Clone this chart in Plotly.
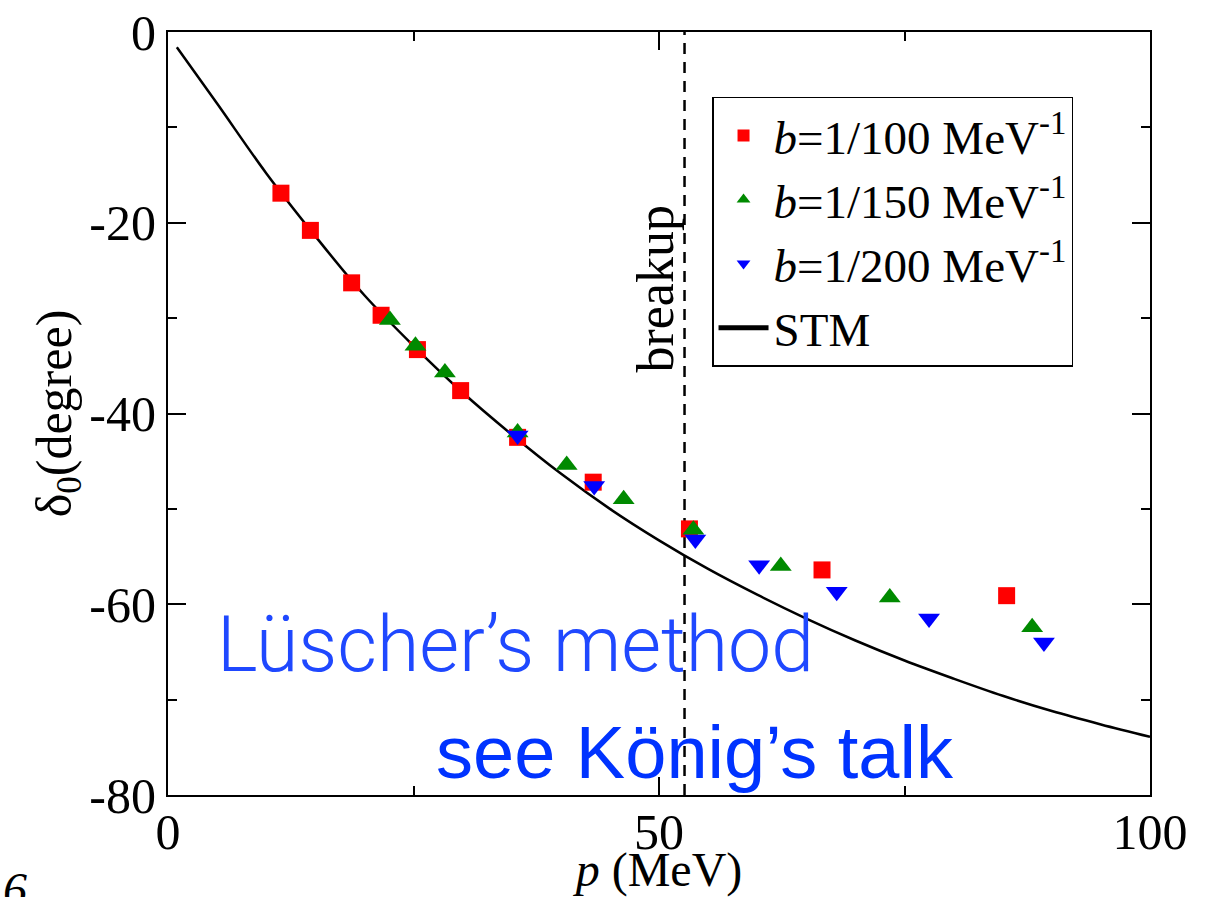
import plotly.graph_objects as go

# ---- data ----
p_b100 = [11.5, 14.5, 18.7, 21.7, 25.4, 29.8, 35.6, 43.3, 53.1, 66.6, 85.4]
d_b100 = [-16.9, -20.8, -26.3, -29.7, -33.3, -37.6, -42.5, -47.2, -52.1, -56.4, -59.1]

p_b150 = [22.6, 25.2, 28.2, 35.6, 40.6, 46.4, 53.5, 62.4, 73.5, 88.0]
d_b150 = [-30.2, -32.9, -35.7, -42.0, -45.4, -49.0, -52.2, -56.0, -59.3, -62.4]

p_b200 = [35.6, 43.4, 53.7, 60.2, 68.1, 77.5, 89.2]
d_b200 = [-42.3, -47.6, -53.2, -55.9, -58.7, -61.5, -64.0]

p_stm = [0.9, 5, 10, 15, 20, 25, 30, 35, 40, 45, 50, 55, 60, 65, 70, 75, 80, 85, 90, 95, 100]
d_stm = [-1.6, -7.5, -14.8, -21.4, -27.6, -32.9, -37.8, -42.2, -46.3, -50.0, -53.3,
         -56.3, -59.0, -61.5, -63.8, -65.9, -67.8, -69.6, -71.2, -72.6, -73.9]

breakup_p = 52.6
y_range = [-80, 0]
x_range = [0, 100]
x_ticks = [0, 50, 100]
x_ticktext = ["0", "50", "100"]
y_ticks = [0, -20, -40, -60, -80]
y_ticktext = ["0", "-20", "-40", "-60", "-80"]

SERIF = "Liberation Serif"

fig = go.Figure()
fig.add_trace(go.Scatter(x=[breakup_p, breakup_p], y=y_range, mode="lines",
                         line=dict(color="black", width=2.5, dash="11px,8px"),
                         showlegend=False, hoverinfo="skip"))
fig.add_trace(go.Scatter(x=p_stm, y=d_stm, mode="lines", name="STM",
                         line=dict(color="black", width=2.5, shape="spline", smoothing=1.0),
                         showlegend=False))
fig.add_trace(go.Scatter(x=p_b100, y=d_b100, mode="markers",
                         name="<i>b</i>=1/100 MeV<sup>-1</sup>",
                         marker=dict(symbol="square", size=17, color="#ff0000")))
fig.add_trace(go.Scatter(x=p_b150, y=d_b150, mode="markers",
                         name="<i>b</i>=1/150 MeV<sup>-1</sup>",
                         marker=dict(symbol="triangle-up", size=19, color="#008a00")))
fig.add_trace(go.Scatter(x=p_b200, y=d_b200, mode="markers",
                         name="<i>b</i>=1/200 MeV<sup>-1</sup>",
                         marker=dict(symbol="triangle-down", size=19, color="#0000ff")))
# legend entry for STM
fig.add_trace(go.Scatter(x=[None], y=[None], mode="lines", name="STM",
                         line=dict(color="black", width=2.5)))

axis_common = dict(showgrid=False, zeroline=False, showline=True, linecolor="black",
                   linewidth=2, mirror="allticks", ticks="inside", ticklen=18,
                   tickwidth=1.5, tickcolor="black", automargin=False,
                   tickfont=dict(family=SERIF, size=50, color="black"))

fig.update_xaxes(range=x_range, tickvals=x_ticks, ticktext=x_ticktext, **axis_common,
                 ticklabelstandoff=-8,
                 minor=dict(ticks="inside", ticklen=9, tickwidth=1.5, tickcolor="black",
                            tickvals=[25, 75]),
                 title=dict(text="<i>p</i> (MeV)", font=dict(family=SERIF, size=48, color="black"),
                            standoff=6))
fig.update_yaxes(range=y_range, tickvals=y_ticks, ticktext=y_ticktext, **axis_common,
                 minor=dict(ticks="inside", ticklen=9, tickwidth=1.5, tickcolor="black",
                            tickvals=[-10, -30, -50, -70]),
                 title=dict(text="δ<sub>0</sub>(degree)", font=dict(family=SERIF, size=50, color="black"),
                            standoff=2))

fig.add_annotation(x=49.6, y=-27.0, text="breakup", textangle=-90, showarrow=False,
                   font=dict(family=SERIF, size=52, color="black"))
fig.add_annotation(x=35.4, y=-64.3, text="Lüscher’s method", showarrow=False,
                   font=dict(family="Roboto", size=77, color="#1f48ff", weight=300))
fig.add_annotation(x=53.7, y=-75.5, text="see König’s talk", showarrow=False,
                   font=dict(family="Liberation Sans", size=74, color="#0033ff"))
fig.add_annotation(xref="paper", yref="paper", x=-0.17, y=-0.086, text="<i>6</i>",
                   xanchor="left", yanchor="top", showarrow=False,
                   font=dict(family=SERIF, size=48, color="black"))

fig.update_layout(
    width=1221, height=897,
    margin=dict(l=168, r=71, t=32, b=102, autoexpand=False),
    paper_bgcolor="white", plot_bgcolor="white",
    showlegend=True,
    legend=dict(x=0.554, y=0.915, xanchor="left", yanchor="top",
                bgcolor="white", bordercolor="black", borderwidth=1.5,
                font=dict(family=SERIF, size=47, color="black"),
                itemsizing="constant", itemwidth=50, tracegroupgap=0),
)

fig.write_html("out.html")
